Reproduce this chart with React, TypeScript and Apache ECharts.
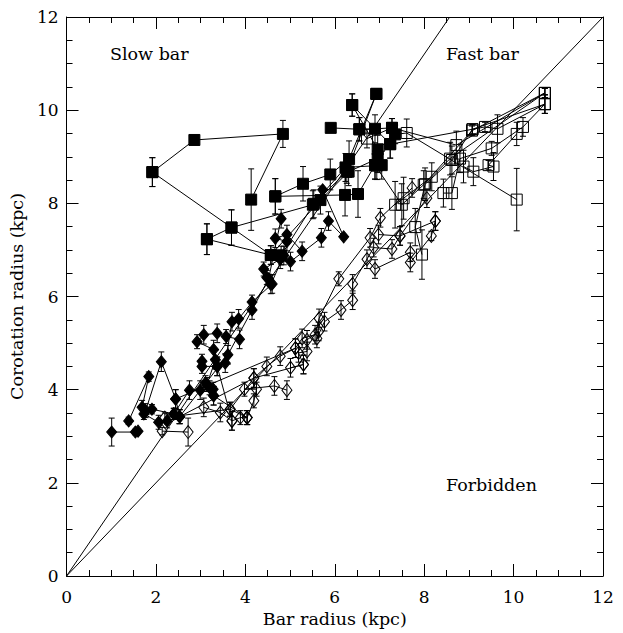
import React, { useEffect, useRef } from "react";
import * as echarts from "echarts";

// point: [bar radius, corotation radius, error, kind]
// kind: S = filled square, s = open square, D = filled diamond, d = open diamond
type P = [number, number, number, string];

const xTicks = [0, 2, 4, 6, 8, 10, 12];
const yTicks = [0, 2, 4, 6, 8, 10, 12];
const ratioLines = [1.0, 1.4];
const regionLabels = ["Slow bar", "Fast bar", "Forbidden"];

const sqA: P[] = [[1.92, 8.67, 0.31, "S"], [2.86, 9.36, 0.06, "S"], [4.84, 9.49, 0.29, "S"], [4.13, 8.08, 0.66, "S"]];
const sqB: P[] = [[1.92, 8.67, 0.31, "S"], [3.69, 7.48, 0.38, "S"], [5.51, 7.97, 0.3, "S"], [6.27, 8.68, 0.25, "S"], [6.93, 10.35, 0.1, "S"]];
const sqC: P[] = [[4.67, 8.15, 0.38, "S"], [6.23, 8.18, 0.45, "S"], [6.52, 8.2, 0.5, "S"], [6.9, 8.82, 0.3, "S"]];
const sqD: P[] = [[3.14, 7.23, 0.33, "S"], [3.69, 7.48, 0.38, "S"], [4.57, 6.89, 0.2, "S"], [3.14, 7.23, 0.33, "S"]];
const sqE: P[] = [[4.57, 6.89, 0.2, "S"], [5.68, 8.07, 0.3, "S"], [6.31, 8.68, 0.3, "S"], [6.96, 8.96, 0.3, "S"], [7.24, 9.27, 0.3, "S"]];
const sqF: P[] = [[4.8, 6.88, 0.2, "S"], [5.53, 7.99, 0.3, "S"], [6.24, 8.77, 0.3, "S"], [6.94, 8.81, 0.3, "S"], [7.05, 8.82, 0.3, "S"]];
const sqG: P[] = [[5.91, 9.62, 0.1, "S"], [6.55, 9.59, 0.25, "S"], [6.9, 9.6, 0.3, "S"], [7.28, 9.62, 0.2, "S"]];
const sqH: P[] = [[6.39, 10.11, 0.24, "S"], [6.96, 9.16, 0.3, "S"], [7.35, 9.48, 0.2, "S"], [7.61, 9.51, 0.3, "s"], [10.07, 8.08, 0.67, "s"]];
const sqI: P[] = [[6.93, 10.35, 0.1, "S"], [6.32, 8.95, 0.39, "S"], [5.9, 8.62, 0.33, "S"], [5.29, 8.42, 0.37, "S"], [4.67, 8.15, 0.38, "S"]];
const sqJ: P[] = [[6.55, 9.59, 0.25, "S"], [6.72, 9.39, 0.2, "s"], [7.28, 9.62, 0.2, "S"], [8.72, 9.25, 0.3, "s"], [10.7, 10.37, 0.1, "s"]];
const sqK: P[] = [[6.39, 10.11, 0.24, "S"], [7.24, 9.27, 0.3, "S"], [9.08, 9.59, 0.1, "s"], [10.7, 10.13, 0.2, "s"]];

const osA: P[] = [[7.35, 7.97, 0.5, "s"], [7.54, 8.11, 0.45, "s"], [8.17, 8.57, 0.3, "s"], [8.58, 8.96, 0.35, "s"], [10.7, 10.37, 0.1, "s"]];
const osB: P[] = [[7.95, 6.9, 0.53, "s"], [7.8, 7.49, 0.4, "s"], [8.02, 8.41, 0.35, "s"], [8.62, 8.93, 0.3, "s"], [9.08, 9.59, 0.1, "s"], [9.36, 9.64, 0.1, "s"], [9.64, 9.6, 0.3, "s"], [10.7, 10.13, 0.2, "s"]];
const osC: P[] = [[8.43, 8.22, 0.3, "s"], [8.62, 8.22, 0.35, "s"], [8.8, 8.96, 0.3, "s"], [9.51, 9.18, 0.15, "s"], [10.21, 9.64, 0.2, "s"], [10.7, 10.13, 0.2, "s"]];
const osD: P[] = [[8.88, 8.79, 0.35, "s"], [9.1, 8.68, 0.3, "s"], [9.55, 8.79, 0.3, "s"], [9.44, 8.82, 0.1, "s"], [10.07, 9.49, 0.25, "s"]];
const osE: P[] = [[6.9, 8.82, 0.3, "s"], [7.5, 7.97, 0.45, "s"], [7.99, 8.4, 0.3, "s"], [9.07, 9.56, 0.1, "s"], [10.7, 10.37, 0.1, "s"]];

const dmA: P[] = [[1.01, 3.09, 0.3, "D"], [1.54, 3.09, 0.06, "D"], [1.6, 3.11, 0.05, "D"]];
const dmB: P[] = [[1.39, 3.33, 0.08, "D"], [1.84, 4.28, 0.1, "D"], [1.69, 3.62, 0.15, "D"], [1.91, 3.58, 0.1, "D"], [2.4, 3.48, 0.12, "D"]];
const dmC: P[] = [[1.77, 3.55, 0.15, "D"], [2.12, 4.6, 0.21, "D"], [2.44, 3.8, 0.2, "D"], [2.53, 3.42, 0.15, "D"], [2.25, 3.33, 0.15, "D"], [2.06, 3.3, 0.15, "D"], [1.73, 3.48, 0.12, "D"]];
const dmD: P[] = [[2.53, 3.42, 0.15, "D"], [3.61, 4.75, 0.2, "D"], [4.15, 5.71, 0.2, "D"], [4.52, 6.38, 0.1, "D"], [4.8, 7.67, 0.2, "D"]];
const dmE: P[] = [[2.4, 3.48, 0.12, "D"], [2.75, 3.99, 0.2, "D"], [2.99, 3.99, 0.2, "D"], [3.14, 4.11, 0.15, "D"], [3.33, 4.64, 0.2, "D"], [3.29, 4.86, 0.2, "D"], [2.92, 5.03, 0.15, "D"], [3.07, 5.18, 0.2, "D"], [3.37, 5.21, 0.2, "D"], [3.57, 5.14, 0.15, "D"], [3.87, 5.08, 0.2, "D"]];
const dmF: P[] = [[3.03, 4.61, 0.15, "D"], [3.03, 4.5, 0.15, "D"], [3.37, 4.5, 0.2, "D"], [3.55, 4.57, 0.2, "D"], [3.7, 5.46, 0.2, "D"], [3.85, 5.52, 0.2, "D"], [4.15, 5.88, 0.15, "D"], [4.6, 6.27, 0.2, "D"], [4.41, 6.59, 0.15, "D"], [4.78, 6.8, 0.2, "D"], [4.93, 7.18, 0.2, "D"], [4.67, 7.25, 0.2, "D"], [4.93, 7.33, 0.2, "D"], [5.27, 6.97, 0.2, "D"]];
const dmG: P[] = [[3.11, 4.15, 0.15, "D"], [3.2, 4.04, 0.15, "D"], [3.29, 3.87, 0.2, "D"], [3.28, 4.01, 0.15, "D"]];
const dmH: P[] = [[4.48, 6.41, 0.15, "D"], [4.57, 6.26, 0.2, "D"], [4.86, 6.88, 0.2, "D"], [5.01, 6.75, 0.2, "D"], [5.7, 7.26, 0.2, "D"], [5.86, 7.62, 0.2, "D"], [6.2, 7.28, 0.05, "D"], [5.73, 8.29, 0.05, "D"]];

const odA: P[] = [[2.14, 3.11, 0.08, "d"], [2.72, 3.09, 0.3, "d"]];
const odB: P[] = [[3.07, 3.62, 0.2, "d"], [3.44, 3.51, 0.2, "d"], [3.7, 3.33, 0.2, "d"], [3.89, 3.4, 0.15, "d"], [4.04, 3.4, 0.15, "d"], [4.19, 3.76, 0.15, "d"], [4.25, 4.01, 0.15, "d"], [3.98, 4.01, 0.15, "d"], [4.65, 4.08, 0.2, "d"], [4.93, 3.99, 0.2, "d"]];
const odC: P[] = [[3.66, 3.58, 0.15, "d"], [4.19, 4.25, 0.2, "d"], [4.48, 4.5, 0.2, "d"], [4.78, 4.72, 0.2, "d"], [5.12, 4.89, 0.2, "d"], [5.27, 5.1, 0.2, "d"], [5.56, 5.18, 0.2, "d"], [5.65, 5.53, 0.2, "d"], [6.09, 6.38, 0.15, "d"], [6.79, 7.26, 0.2, "d"], [7.02, 7.69, 0.2, "d"], [7.73, 8.33, 0.2, "d"]];
const odD: P[] = [[5.01, 4.47, 0.2, "d"], [5.3, 4.54, 0.2, "d"], [5.19, 4.79, 0.2, "d"], [5.38, 4.82, 0.2, "d"], [5.38, 5.07, 0.2, "d"], [5.64, 5.25, 0.2, "d"], [5.6, 5.1, 0.2, "d"], [5.77, 5.46, 0.2, "d"], [6.14, 5.71, 0.2, "d"], [6.4, 5.92, 0.2, "d"], [6.4, 6.27, 0.2, "d"], [6.87, 7.05, 0.2, "d"], [7.28, 7.02, 0.2, "d"], [7.46, 7.3, 0.2, "d"], [8.06, 8.11, 0.2, "d"]];
const odE: P[] = [[6.72, 6.8, 0.2, "d"], [6.9, 6.59, 0.2, "d"], [7.69, 6.95, 0.2, "d"], [7.69, 6.73, 0.2, "d"], [8.16, 7.3, 0.1, "d"], [8.25, 7.62, 0.2, "d"]];
const odF: P[] = [[6.98, 7.33, 0.2, "d"], [7.46, 7.3, 0.2, "d"], [8.25, 7.62, 0.2, "d"]];

const crossA: P[] = [[2.53, 3.42, 0.15, "D"], [4.19, 4.25, 0.2, "d"], [5.3, 4.54, 0.2, "d"]];
const crossB: P[] = [[2.44, 3.8, 0.2, "D"], [5.12, 4.89, 0.2, "d"]];
const crossC: P[] = [[3.37, 4.5, 0.2, "D"], [3.7, 3.33, 0.2, "d"]];
const crossD: P[] = [[3.29, 3.87, 0.2, "D"], [4.04, 3.4, 0.15, "d"]];
const crossE: P[] = [[2.2, 3.4, 0.1, "d"], [3.66, 3.58, 0.15, "d"], [4.04, 3.4, 0.15, "d"]];

const tracks: P[][] = [
  sqA, sqB, sqC, sqD, sqE, sqF, sqG, sqH, sqI, sqJ, sqK,
  osA, osB, osC, osD, osE,
  dmA, dmB, dmC, dmD, dmE, dmF, dmG, dmH,
  odA, odB, odC, odD, odE, odF,
  crossA, crossB, crossC, crossD, crossE,
];

const FONT = "'DejaVu Serif', serif";

export default function App() {
  const ref = useRef<HTMLDivElement>(null);
  useEffect(() => {
    if (!ref.current) return;
    const chart = echarts.init(ref.current, undefined, { renderer: "svg" });
    const allPts: P[] = [];
    tracks.forEach((t) => t.forEach((p) => allPts.push(p)));

    const lineSeries: any[] = tracks.map((t) => ({
      type: "line",
      data: t.map((p) => [p[0], p[1]]),
      symbol: "none",
      lineStyle: { color: "#000", width: 1 },
      silent: true,
      z: 2,
    }));
    const refSeries: any[] = ratioLines.map((r) => ({
      type: "line",
      data: [[0, 0], [Math.min(12, 12 / r), Math.min(12, 12 * r)]],
      symbol: "none",
      lineStyle: { color: "#000", width: 1 },
      silent: true,
      z: 1,
    }));
    const errSeries: any = {
      type: "custom",
      data: allPts.filter((p) => p[2] > 0.04).map((p) => [p[0], p[1], p[2]]),
      renderItem: (params: any, api: any) => {
        const x = api.value(0), y = api.value(1), e = api.value(2);
        const lo = api.coord([x, y - e]);
        const hi = api.coord([x, y + e]);
        const st = { stroke: "#000", lineWidth: 1 };
        return {
          type: "group",
          children: [
            { type: "line", shape: { x1: lo[0], y1: lo[1], x2: hi[0], y2: hi[1] }, style: st },
            { type: "line", shape: { x1: lo[0] - 3, y1: lo[1], x2: lo[0] + 3, y2: lo[1] }, style: st },
            { type: "line", shape: { x1: hi[0] - 3, y1: hi[1], x2: hi[0] + 3, y2: hi[1] }, style: st },
          ],
        };
      },
      silent: true,
      z: 3,
    };
    const kindDefs: any = {
      S: { symbol: "rect", size: 11, fill: "#000" },
      s: { symbol: "rect", size: 11, fill: "rgba(0,0,0,0)" },
      D: { symbol: "diamond", size: [10, 12], fill: "#000" },
      d: { symbol: "diamond", size: [10, 13], fill: "rgba(0,0,0,0)" },
    };
    const markerSeries: any[] = Object.keys(kindDefs).map((k) => ({
      type: "scatter",
      data: allPts.filter((p) => p[3] === k).map((p) => [p[0], p[1]]),
      symbol: kindDefs[k].symbol,
      symbolSize: kindDefs[k].size,
      itemStyle: { color: kindDefs[k].fill, borderColor: "#000", borderWidth: 1, opacity: 1 },
      silent: true,
      z: 4,
    }));

    const axisCommon = {
      type: "value",
      min: 0,
      max: 12,
      interval: 2,
      axisLine: { show: true, onZero: false, lineStyle: { color: "#000", width: 1 } },
      axisTick: { show: true, inside: true, length: 12, lineStyle: { color: "#000", width: 1 } },
      minorTick: { show: true, splitNumber: 4, length: 6, lineStyle: { color: "#000", width: 1 } },
      splitLine: { show: false },
      minorSplitLine: { show: false },
    };
    const labelStyle = { color: "#000", fontFamily: FONT, fontSize: 17 };
    const nameStyle = { color: "#000", fontFamily: FONT, fontSize: 17.5 };

    chart.setOption({
      animation: false,
      backgroundColor: "#fff",
      grid: { left: 66, right: 20, top: 17, bottom: 51, containLabel: false },
      xAxis: [
        {
          ...axisCommon,
          position: "bottom",
          axisLabel: { ...labelStyle, margin: 12, formatter: (v: number) => (xTicks.includes(v) ? String(v) : "") },
          name: "Bar radius (kpc)",
          nameLocation: "middle",
          nameGap: 34,
          nameTextStyle: nameStyle,
        },
        { ...axisCommon, position: "top", axisLabel: { show: false } },
      ],
      yAxis: [
        {
          ...axisCommon,
          position: "left",
          axisLabel: { ...labelStyle, margin: 8, formatter: (v: number) => (yTicks.includes(v) ? String(v) : "") },
          name: "Corotation radius (kpc)",
          nameLocation: "middle",
          nameGap: 38,
          nameRotate: 90,
          nameTextStyle: nameStyle,
        },
        { ...axisCommon, position: "right", axisLabel: { show: false } },
      ],
      graphic: [
        { type: "text", left: 110, top: 45, style: { text: regionLabels[0], font: `17.5px ${FONT}`, fill: "#000" } },
        { type: "text", left: 446, top: 45, style: { text: regionLabels[1], font: `17.5px ${FONT}`, fill: "#000" } },
        { type: "text", left: 446, top: 476, style: { text: regionLabels[2], font: `17.5px ${FONT}`, fill: "#000" } },
      ],
      series: [...refSeries, ...lineSeries, errSeries, ...markerSeries],
    });
    return () => chart.dispose();
  }, []);
  return <div ref={ref} style={{ width: 623, height: 633, position: "absolute", left: 0, top: 0 }} />;
}
